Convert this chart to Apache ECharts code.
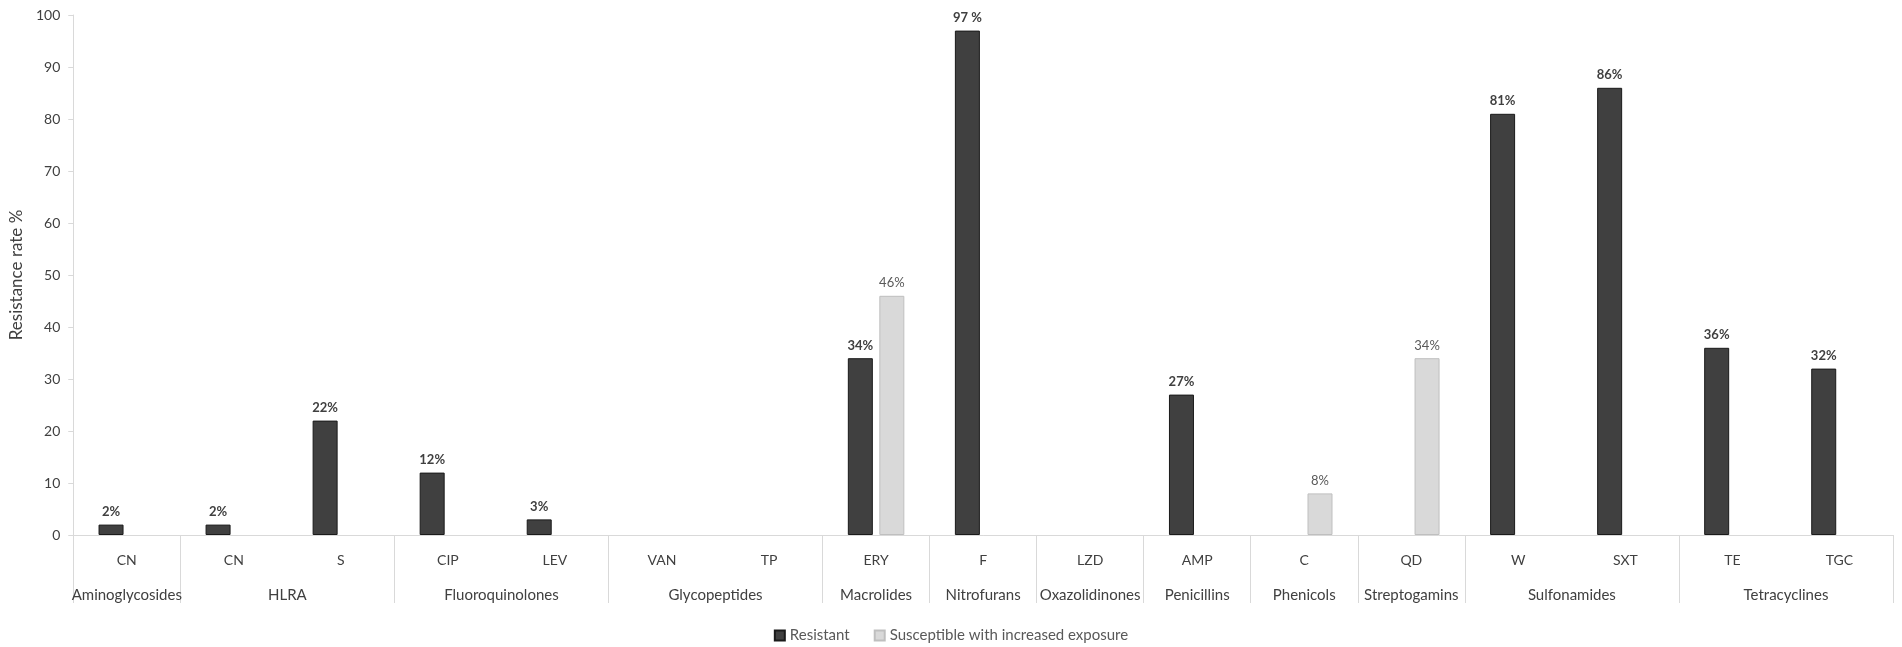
<!DOCTYPE html>
<html>
<head>
<meta charset="utf-8">
<script src="https://cdn.jsdelivr.net/npm/echarts@6/dist/echarts.min.js"></script>
<style>
html,body{margin:0;padding:0;background:#fff;}
#chart{width:1902px;height:647px;}
</style>
</head>
<body>
<div id="chart"></div>
<script>
const categories = ['CN','CN','S','CIP','LEV','VAN','TP','ERY','F','LZD','AMP','C','QD','W','SXT','TE','TGC'];
const groupNames = ['Aminoglycosides','HLRA','Fluoroquinolones','Glycopeptides','Macrolides','Nitrofurans','Oxazolidinones','Penicillins','Phenicols','Streptogamins','Sulfonamides','Tetracyclines'];
const groupSizes = [1,2,2,2,1,1,1,1,1,1,2,2];
const resistant = [2,2,22,12,3,null,null,34,97,null,27,null,null,81,86,36,32];
const susceptibleIncreased = [null,null,null,null,null,null,null,46,null,null,null,8,34,null,null,null,null];
const spacedLabelValues = [97];
const yTicks = {min:0, max:100, interval:10};

// half-category slots for the group axis
const halfSlots = new Array(categories.length * 2 + 1).fill('');
const boundaries = new Set([0]);
let start = 0;
groupNames.forEach((g, i) => {
  const end = start + groupSizes[i];
  halfSlots[start + end] = g;
  boundaries.add(end * 2);
  start = end;
});

const FONT = 'Lato';
const chart = echarts.init(document.getElementById('chart'));
chart.setOption({
  animation: false,
  textStyle: {fontFamily: FONT},
  grid: {left: 67, right: 9, top: 15, bottom: 112, containLabel: false},
  legend: {
    top: 623, left: 'center',
    itemWidth: 10, itemHeight: 10, itemGap: 24, icon: 'rect',
    textStyle: {fontFamily: FONT, fontSize: 15, color: '#595959'},
    data: ['Resistant', 'Susceptible with increased exposure']
  },
  xAxis: [
    {
      type: 'category', data: categories, position: 'bottom',
      axisLine: {show: true, lineStyle: {color: '#d9d9d9', width: 1}},
      axisTick: {show: false},
      axisLabel: {interval: 0, margin: 18, fontSize: 14, color: '#404040', fontFamily: FONT},
      splitLine: {show: false}
    },
    {
      type: 'category', data: halfSlots, position: 'bottom', boundaryGap: false,
      axisLine: {show: false},
      axisTick: {show: true, length: 68, interval: (idx) => boundaries.has(idx), lineStyle: {color: '#d9d9d9', width: 1}},
      axisLabel: {interval: 0, margin: 53, fontSize: 15, color: '#404040', fontFamily: FONT},
      splitLine: {show: false}
    }
  ],
  yAxis: {
    type: 'value', min: yTicks.min, max: yTicks.max, interval: yTicks.interval,
    name: 'Resistance rate %', nameLocation: 'middle', nameGap: 45, nameRotate: 90,
    nameTextStyle: {fontFamily: FONT, fontSize: 17, color: '#404040'},
    axisLine: {show: true, lineStyle: {color: '#d9d9d9', width: 1}},
    axisTick: {show: true, length: 5, lineStyle: {color: '#d9d9d9'}},
    axisLabel: {margin: 13, fontSize: 14, color: '#404040', fontFamily: FONT},
    splitLine: {show: false}
  },
  series: [
    {
      name: 'Resistant', type: 'bar', data: resistant, barWidth: 25, barGap: '26%',
      itemStyle: {color: '#404040', borderColor: '#1a1a1a', borderWidth: 1},
      label: {
        show: true, position: 'top', distance: 6,
        fontFamily: FONT, fontSize: 13, fontWeight: 'bold', color: '#404040',
        formatter: p => spacedLabelValues.includes(p.value) ? p.value + ' %' : p.value + '%'
      }
    },
    {
      name: 'Susceptible with increased exposure', type: 'bar', data: susceptibleIncreased, barWidth: 25,
      itemStyle: {color: '#d9d9d9', borderColor: '#bfbfbf', borderWidth: 1},
      label: {
        show: true, position: 'top', distance: 6,
        fontFamily: FONT, fontSize: 13, color: '#595959',
        formatter: p => p.value + '%'
      }
    }
  ]
});
</script>
</body>
</html>
